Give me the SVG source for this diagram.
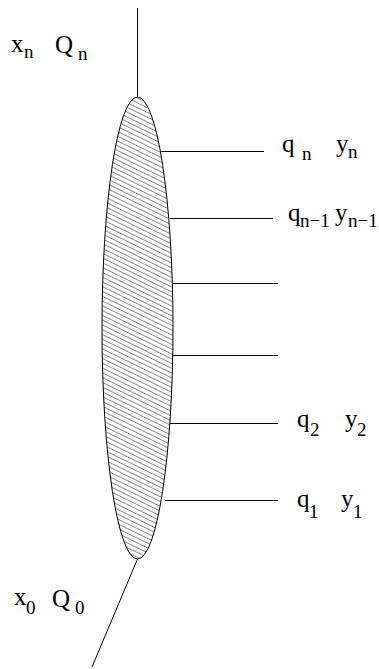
<svg xmlns="http://www.w3.org/2000/svg" width="379" height="669" viewBox="0 0 379 669">
<style>
.ln{stroke:#000;stroke-width:1;fill:none}
.t{font-family:"Liberation Serif","Times New Roman",serif;font-size:25px;fill:#000}
.s{font-family:"Liberation Serif","Times New Roman",serif;font-size:19px;fill:#000}
</style>
<defs>
<pattern id="hatch" patternUnits="userSpaceOnUse" width="20" height="4.3" patternTransform="rotate(26)">
<line x1="-5" y1="2" x2="25" y2="2" stroke="#444" stroke-width="0.7"/>
</pattern>
</defs>
<g id="connectors">
<line class="ln" x1="137.5" y1="8" x2="137.5" y2="97"/>
<line class="ln" x1="137.5" y1="559" x2="92" y2="667"/>
<line class="ln" x1="161" y1="151.5" x2="264" y2="151.5"/>
<line class="ln" x1="170" y1="218.5" x2="273" y2="218.5"/>
<line class="ln" x1="173" y1="283.5" x2="278" y2="283.5"/>
<line class="ln" x1="173" y1="355.5" x2="278" y2="355.5"/>
<line class="ln" x1="170" y1="423.5" x2="278" y2="423.5"/>
<line class="ln" x1="165" y1="500.5" x2="278" y2="500.5"/>
</g>
<g id="body">
<ellipse cx="137.5" cy="328" rx="35.5" ry="231" fill="url(#hatch)" stroke="#000" stroke-width="1"/>
</g>
<g id="label-xn">
<text class="t" x="11" y="52">x</text><text class="s" x="24" y="58">n</text>
<text class="t" x="55" y="53">Q</text><text class="s" x="78" y="60">n</text>
</g>
<g id="label-qn">
<text class="t" x="282" y="152">q</text><text class="s" x="302" y="160">n</text>
<text class="t" x="336" y="152">y</text><text class="s" x="348" y="158">n</text>
</g>
<g id="label-qn1">
<text class="t" x="288" y="221">q</text><text class="s" x="300" y="227">n−1</text>
<text class="t" x="335" y="221">y</text><text class="s" x="348" y="227">n−1</text>
</g>
<g id="label-q2">
<text class="t" x="297" y="427">q</text><text class="s" x="310" y="436">2</text>
<text class="t" x="345" y="427">y</text><text class="s" x="357" y="436">2</text>
</g>
<g id="label-q1">
<text class="t" x="297" y="507">q</text><text class="s" x="309" y="518">1</text>
<text class="t" x="341" y="507">y</text><text class="s" x="353" y="518">1</text>
</g>
<g id="label-x0">
<text class="t" x="14" y="605">x</text><text class="s" x="26" y="614">0</text>
<text class="t" x="52" y="607">Q</text><text class="s" x="75" y="614">0</text>
</g>
</svg>
